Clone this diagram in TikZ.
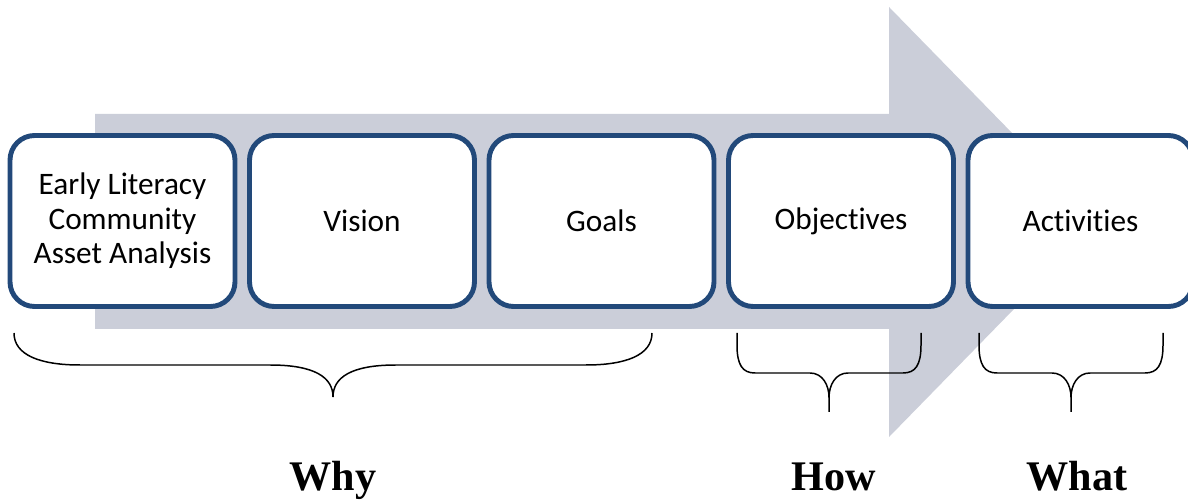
\documentclass[tikz,border=0pt]{standalone}
\usepackage{fontspec}
\setmainfont{Carlito}[Ligatures=NoCommon]
\newfontfamily\labelfont{Liberation Serif}
\usepackage{tikz}
\definecolor{myNavy}{HTML}{22497A}
\definecolor{myGrey}{HTML}{CBCED9}

\begin{document}
\begin{tikzpicture}[
  box/.style={draw=myNavy, line width=2.8pt, rounded corners=14pt,
              fill=white, minimum width=4.5cm, minimum height=3.42cm,
              font=\fontsize{17.8}{19.6}\selectfont, align=center},
  tag/.style={font=\labelfont\fontsize{24}{28}\selectfont\bfseries, anchor=base},
  brace/.style={draw=black, line width=0.85pt}
]
\useasboundingbox (0,0) rectangle (23.76,-10);

% big arrow behind the boxes
\fill[myGrey] (1.9,-2.28) -- (17.78,-2.28) -- (17.78,-0.14) -- (21.98,-4.44)
  -- (17.78,-8.74) -- (17.78,-6.58) -- (1.9,-6.58) -- cycle;

\node[box] (asset) at (2.45,-4.42) {Early Literacy\\Community\\Asset Analysis};
\node[box] (vision) at (7.24,-4.42) {Vision};
\node[box] (goals) at (12.03,-4.42) {Goals};
\node[box] (obj) at (16.82,-4.42) {Objectives};
\node[box] (act) at (21.61,-4.42) {Activities};

% braces
\draw[brace] (0.28,-6.66) .. controls (0.28,-7.1) and (0.8,-7.3) .. (1.6,-7.3)
  -- (5.4,-7.3) .. controls (6.3,-7.3) and (6.66,-7.55) .. (6.66,-7.94)
  .. controls (6.66,-7.55) and (7.02,-7.3) .. (7.92,-7.3)
  -- (11.72,-7.3) .. controls (12.52,-7.3) and (13.04,-7.1) .. (13.04,-6.66);
\foreach \dx in {0,4.84}
  \draw[brace, xshift=\dx cm] (14.74,-6.66) -- (14.74,-6.9)
    .. controls (14.74,-7.3) and (14.85,-7.46) .. (15.1,-7.46)
    -- (16.2,-7.46) .. controls (16.45,-7.46) and (16.58,-7.7) .. (16.58,-7.95)
    .. controls (16.58,-7.7) and (16.71,-7.46) .. (16.96,-7.46)
    -- (18.06,-7.46) .. controls (18.31,-7.46) and (18.42,-7.3) .. (18.42,-6.9)
    -- (18.42,-6.66)
    (16.58,-7.95) -- (16.58,-8.24);

\node[tag] (why) at (6.66,-9.8) {Why};
\node[tag] (how) at (16.68,-9.8) {How};
\node[tag] (what) at (21.54,-9.8) {What};
\end{tikzpicture}
\end{document}
